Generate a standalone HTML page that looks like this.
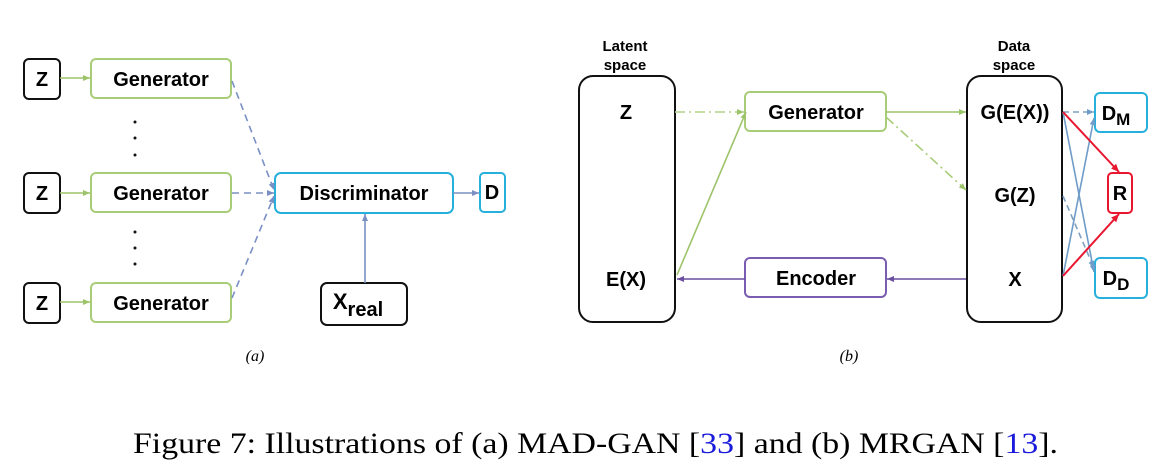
<!DOCTYPE html>
<html><head><meta charset="utf-8"><style>
html,body{margin:0;padding:0;background:#fff;}
svg{display:block;}
.b{font-family:"Liberation Sans",sans-serif;font-weight:bold;fill:#000;}
</style></head><body>
<svg width="1168" height="466" viewBox="0 0 1168 466" xmlns="http://www.w3.org/2000/svg">
<defs>
<marker id="ag" markerWidth="8" markerHeight="8" refX="7" refY="4" orient="auto" markerUnits="userSpaceOnUse"><path d="M0,1 L7,4 L0,7 z" fill="#9dc46a"/></marker>
<marker id="ab" markerWidth="8" markerHeight="8" refX="7" refY="4" orient="auto" markerUnits="userSpaceOnUse"><path d="M0,1 L7,4 L0,7 z" fill="#7a8fc4"/></marker>
<marker id="ap" markerWidth="8" markerHeight="8" refX="7" refY="4" orient="auto" markerUnits="userSpaceOnUse"><path d="M0,1 L7,4 L0,7 z" fill="#6a4ea0"/></marker>
<marker id="ar" markerWidth="9" markerHeight="9" refX="8" refY="4.5" orient="auto" markerUnits="userSpaceOnUse"><path d="M0,1 L8,4.5 L0,8 z" fill="#e8162e"/></marker>
<marker id="as" markerWidth="8" markerHeight="8" refX="7" refY="4" orient="auto" markerUnits="userSpaceOnUse"><path d="M0,1 L7,4 L0,7 z" fill="#6f9cc8"/></marker>
</defs>
<g fill="#fff" stroke-width="2">
<rect x="24" y="59" width="36" height="40" rx="5" stroke="#111"/>
<rect x="24" y="173" width="36" height="40" rx="5" stroke="#111"/>
<rect x="24" y="283" width="36" height="40" rx="5" stroke="#111"/>
<rect x="91" y="59" width="140" height="39" rx="5" stroke="#a8cc78"/>
<rect x="91" y="173" width="140" height="39" rx="5" stroke="#a8cc78"/>
<rect x="91" y="283" width="140" height="39" rx="5" stroke="#a8cc78"/>
<rect x="275" y="173" width="178" height="40" rx="6" stroke="#27b0dc"/>
<rect x="480" y="173" width="25" height="39" rx="4" stroke="#27b0dc"/>
<rect x="321" y="283" width="86" height="42" rx="6" stroke="#111"/>
<rect x="579" y="76" width="96" height="246" rx="14" stroke="#111"/>
<rect x="967" y="76" width="95" height="246" rx="14" stroke="#111"/>
<rect x="745" y="92" width="141" height="39" rx="5" stroke="#a8cc78"/>
<rect x="745" y="258" width="141" height="39" rx="5" stroke="#7a5cb0"/>
<rect x="1095" y="93" width="52" height="39" rx="5" stroke="#27b0dc"/>
<rect x="1108" y="173" width="24" height="40" rx="4" stroke="#e8162e"/>
<rect x="1095" y="258" width="52" height="40" rx="5" stroke="#27b0dc"/>
</g>
<g fill="none" stroke-width="1.6">
<line x1="60" y1="78" x2="90" y2="78" stroke="#9dc46a" marker-end="url(#ag)"/>
<line x1="60" y1="193" x2="90" y2="193" stroke="#9dc46a" marker-end="url(#ag)"/>
<line x1="60" y1="302" x2="90" y2="302" stroke="#9dc46a" marker-end="url(#ag)"/>
<g stroke="#7a8fc4" stroke-dasharray="7,5">
<line x1="232" y1="81" x2="274" y2="190" marker-end="url(#ab)"/>
<line x1="232" y1="193" x2="274" y2="193" marker-end="url(#ab)"/>
<line x1="232" y1="298" x2="274" y2="196" marker-end="url(#ab)"/>
</g>
<line x1="453" y1="193" x2="479" y2="193" stroke="#7a8fc4" marker-end="url(#ab)"/>
<line x1="365" y1="283" x2="365" y2="214" stroke="#7a8fc4" marker-end="url(#ab)"/>
<line x1="675" y1="112" x2="744" y2="112" stroke="#b5d48a" stroke-dasharray="10,4,2,4" marker-end="url(#ag)"/>
<line x1="677" y1="275" x2="746" y2="112" stroke="#9dc46a" marker-end="url(#ag)"/>
<line x1="886" y1="112" x2="966" y2="112" stroke="#9dc46a" marker-end="url(#ag)"/>
<line x1="886" y1="117" x2="966" y2="190" stroke="#a8cc78" stroke-dasharray="10,4,2,4" marker-end="url(#ag)"/>
<line x1="966" y1="279" x2="887" y2="279" stroke="#6a4ea0" marker-end="url(#ap)"/>
<line x1="745" y1="279" x2="677" y2="279" stroke="#6a4ea0" marker-end="url(#ap)"/>
<line x1="1063" y1="112" x2="1094" y2="112" stroke="#7fa0c0" stroke-dasharray="6,4" marker-end="url(#as)"/>
<line x1="1063" y1="112" x2="1094" y2="272" stroke="#6f9cc8" marker-end="url(#as)"/>
<line x1="1063" y1="276" x2="1094" y2="118" stroke="#6f9cc8" marker-end="url(#as)"/>
<line x1="1063" y1="196" x2="1094" y2="268" stroke="#7fa0c0" stroke-dasharray="6,4" marker-end="url(#as)"/>
<line x1="1063" y1="112" x2="1119" y2="172" stroke="#e8162e" stroke-width="2" marker-end="url(#ar)"/>
<line x1="1063" y1="276" x2="1119" y2="214" stroke="#e8162e" stroke-width="2" marker-end="url(#ar)"/>
</g>
<g fill="#111">
<circle cx="135" cy="122" r="1.5"/><circle cx="135" cy="138" r="1.5"/><circle cx="135" cy="155" r="1.5"/>
<circle cx="135" cy="232" r="1.5"/><circle cx="135" cy="248" r="1.5"/><circle cx="135" cy="264" r="1.5"/>
</g>
<g class="b" font-size="20" text-anchor="middle">
<text x="42" y="86">Z</text><text x="42" y="200">Z</text><text x="42" y="310">Z</text>
<text x="161" y="86">Generator</text><text x="161" y="200">Generator</text><text x="161" y="310">Generator</text>
<text x="364" y="200">Discriminator</text>
<text x="492" y="199">D</text>
<text x="358" y="309" font-size="22">X<tspan font-size="20" dy="7">real</tspan></text>
<text x="626" y="119">Z</text><text x="626" y="286">E(X)</text>
<text x="816" y="119">Generator</text><text x="816" y="285">Encoder</text>
<text x="1015" y="119">G(E(X))</text><text x="1015" y="202">G(Z)</text><text x="1015" y="286">X</text>
<text x="1116" y="120">D<tspan font-size="17" dy="5">M</tspan></text>
<text x="1120" y="200">R</text>
<text x="1116" y="285">D<tspan font-size="17" dy="5">D</tspan></text>
<text x="625" y="51" font-size="15">Latent</text><text x="625" y="70" font-size="15">space</text>
<text x="1014" y="51" font-size="15">Data</text><text x="1014" y="70" font-size="15">space</text>
</g>
<g font-family="Liberation Serif,serif" fill="#000">
<text x="255" y="361" font-size="16" font-style="italic" text-anchor="middle">(a)</text>
<text x="849" y="361" font-size="16" font-style="italic" text-anchor="middle">(b)</text>
<text x="133" y="453" font-size="30" textLength="925" lengthAdjust="spacingAndGlyphs">Figure 7:  Illustrations of (a) MAD-GAN [<tspan fill="#1a1adc">33</tspan>] and (b) MRGAN [<tspan fill="#1a1adc">13</tspan>].</text>
</g>
</svg>
</body></html>
